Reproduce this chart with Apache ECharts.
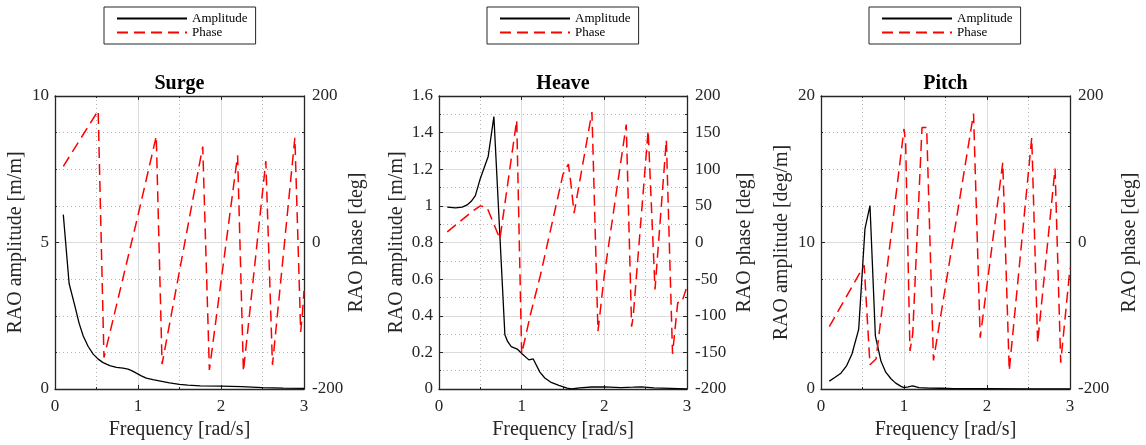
<!DOCTYPE html>
<html><head><meta charset="utf-8">
<script src="https://cdn.jsdelivr.net/npm/echarts@6/dist/echarts.min.js"></script>
<style>html,body{margin:0;padding:0;background:#fff}#c{width:1146px;height:445px}</style>
</head><body><div id="c"></div>
<script>
// ---------- data ----------
const panelTitles = ['Surge', 'Heave', 'Pitch'];
const ampNames = ['RAO amplitude [m/m]', 'RAO amplitude [m/m]', 'RAO amplitude [deg/m]'];
const phaseName = 'RAO phase [deg]';
const xName = 'Frequency [rad/s]';
const legendNames = ['Amplitude', 'Phase'];

// left-axis tick settings [max, interval, minor split]
const ampAxisMax = [10, 1.6, 20];
const ampAxisInterval = [5, 0.2, 10];
const ampAxisMinor = [4, 2, 4];
// right-axis tick settings
const phaseAxisInterval = [200, 50, 200];
const phaseAxisMinor = [4, 2, 4];

// [frequency rad/s, value]
const surgeAmplitude = [[0.1,5.95],[0.17,3.6],[0.24,2.83],[0.29,2.25],[0.34,1.81],[0.4,1.45],[0.46,1.19],[0.52,1.02],[0.58,0.9],[0.66,0.8],[0.74,0.74],[0.82,0.71],[0.88,0.68],[0.93,0.62],[0.98,0.54],[1.04,0.45],[1.1,0.37],[1.18,0.32],[1.27,0.27],[1.38,0.21],[1.5,0.16],[1.6,0.13],[1.75,0.11],[2.0,0.1],[2.25,0.08],[2.5,0.05],[2.75,0.03],[3.0,0.02]];
const surgePhase = [[0.1,104],[0.52,180],[0.59,-157],[1.0,37],[1.22,145],[1.29,-166],[1.78,131],[1.86,-174],[2.2,119],[2.27,-176],[2.54,111],[2.62,-167],[2.89,143],[2.96,-122],[2.98,-98],[3.0,-66]];

const heaveAmplitude = [[0.1,0.993],[0.2,0.989],[0.28,0.993],[0.34,1.005],[0.39,1.025],[0.44,1.056],[0.5,1.15],[0.595,1.27],[0.664,1.488],[0.797,0.296],[0.83,0.26],[0.874,0.231],[0.946,0.218],[1.007,0.191],[1.087,0.159],[1.14,0.164],[1.22,0.092],[1.28,0.06],[1.349,0.038],[1.45,0.02],[1.55,0.005],[1.6,0.0],[1.7,0.006],[1.85,0.011],[2.0,0.012],[2.2,0.008],[2.35,0.01],[2.45,0.012],[2.6,0.006],[2.8,0.003],[3.0,0.0]];
const heavePhase = [[0.1,14.5],[0.42,44],[0.5,50],[0.58,48],[0.737,5],[0.94,167],[1.0,-152],[1.107,-98],[1.228,-44],[1.5,93],[1.565,107],[1.594,82],[1.634,40],[1.85,178],[1.923,-121],[2.0,-44],[2.265,161],[2.33,-115],[2.35,-100],[2.53,153],[2.613,-64],[2.75,140],[2.825,-152],[2.888,-82],[2.936,-82],[3.0,-60]];

const pitchAmplitude = [[0.1,0.54],[0.17,0.8],[0.24,1.08],[0.31,1.6],[0.373,2.39],[0.454,4.07],[0.53,10.95],[0.59,12.52],[0.655,3.63],[0.723,1.89],[0.78,1.15],[0.843,0.7],[0.9,0.4],[0.964,0.18],[1.0,0.1],[1.05,0.15],[1.105,0.22],[1.18,0.1],[1.3,0.06],[1.45,0.05],[1.6,0.03],[2.0,0.02],[2.5,0.01],[3.0,0.01]];
const pitchPhase = [[0.1,-115],[0.52,-31],[0.59,-167],[0.663,-159],[1.0,155],[1.02,135],[1.072,-148],[1.105,-125],[1.217,157],[1.273,157],[1.355,-161],[1.838,176],[1.918,-130],[2.19,109],[2.268,-175],[2.539,143],[2.61,-137],[2.82,101],[2.888,-164],[3.0,-35]];

const amplitudes = [surgeAmplitude, heaveAmplitude, pitchAmplitude];
const phases = [surgePhase, heavePhase, pitchPhase];

// ---------- layout / style ----------
const FONT = 'Liberation Serif';
const AX = '#262626';
const gridLeft = [55, 439, 821];
const gridWidth = [249, 248, 249];
const gridTop = 96, gridHeight = 296;
const legendLeft = [104, 487, 869];
const leftNameGap = [29, 32, 29];
const rightNameGap = [36, 48, 50];

const majorGrid = { show: true, lineStyle: { color: '#dcdcdc', width: 1 } };
const minorGrid = { show: true, lineStyle: { color: '#b4b4b4', width: 1, type: [1, 3] } };
const tickLabel = { color: AX, fontFamily: FONT, fontSize: 17 };
const axisLine = { show: true, onZero: false, lineStyle: { color: AX, width: 1.3 } };

const grid = [], xAxis = [], yAxis = [], series = [], title = [], legend = [];
for (let i = 0; i < 3; i++) {
  grid.push({ left: gridLeft[i], top: gridTop, width: gridWidth[i], height: gridHeight, containLabel: false });
  xAxis.push({
    type: 'value', gridIndex: i, position: 'bottom', min: 0, max: 3, interval: 1,
    axisLine, axisTick: { inside: true, length: 4, lineStyle: { color: AX } },
    minorTick: { show: true, splitNumber: 2, length: 2, lineStyle: { color: AX } },
    splitLine: majorGrid, minorSplitLine: minorGrid,
    axisLabel: Object.assign({ margin: 9 }, tickLabel),
    name: xName, nameLocation: 'middle', nameGap: 31,
    nameTextStyle: { color: AX, fontFamily: FONT, fontSize: 20 }
  });
  xAxis.push({
    type: 'value', gridIndex: i, position: 'top', min: 0, max: 3, interval: 1,
    axisLine, axisTick: { inside: true, length: 4, lineStyle: { color: AX } },
    minorTick: { show: true, splitNumber: 2, length: 2, lineStyle: { color: AX } },
    splitLine: { show: false }, axisLabel: { show: false }
  });
  yAxis.push({
    type: 'value', gridIndex: i, position: 'left', min: 0, max: ampAxisMax[i], interval: ampAxisInterval[i],
    axisLine, axisTick: { inside: true, length: 4, lineStyle: { color: AX } },
    minorTick: { show: true, splitNumber: ampAxisMinor[i], length: 2, lineStyle: { color: AX } },
    splitLine: majorGrid, minorSplitLine: minorGrid,
    axisLabel: Object.assign({ margin: 6 }, tickLabel),
    name: ampNames[i], nameLocation: 'middle', nameGap: leftNameGap[i], nameRotate: 90,
    nameTextStyle: { color: AX, fontFamily: FONT, fontSize: 20 }
  });
  yAxis.push({
    type: 'value', gridIndex: i, position: 'right', min: -200, max: 200, interval: phaseAxisInterval[i],
    axisLine, axisTick: { inside: true, length: 4, lineStyle: { color: AX } },
    minorTick: { show: true, splitNumber: phaseAxisMinor[i], length: 2, lineStyle: { color: AX } },
    splitLine: { show: false },
    axisLabel: Object.assign({ margin: 8 }, tickLabel),
    name: phaseName, nameLocation: 'middle', nameGap: rightNameGap[i], nameRotate: 90,
    nameTextStyle: { color: AX, fontFamily: FONT, fontSize: 20 }
  });
  series.push({
    name: legendNames[0], type: 'line', xAxisIndex: i * 2, yAxisIndex: i * 2,
    data: amplitudes[i], symbol: 'none', showSymbol: false, animation: false,
    lineStyle: { color: '#000', width: 1.3 }, itemStyle: { color: '#000' }
  });
  series.push({
    name: legendNames[1], type: 'line', xAxisIndex: i * 2, yAxisIndex: i * 2 + 1,
    data: phases[i], symbol: 'none', showSymbol: false, animation: false,
    lineStyle: { color: '#ff0000', width: 1.5, type: [11, 6] }, itemStyle: { color: '#ff0000' }
  });
  title.push({
    text: panelTitles[i], left: gridLeft[i] + gridWidth[i] / 2, top: 74, textAlign: 'center', padding: 0,
    textStyle: { fontFamily: FONT, fontSize: 20, fontWeight: 'bold', color: '#000' }
  });
  legend.push({
    data: legendNames, orient: 'vertical', left: legendLeft[i], top: 7,
    padding: [5, 8, 5, 12], itemGap: 1, itemWidth: 70, itemHeight: 14,
    borderColor: AX, borderWidth: 1, backgroundColor: '#fff', selectedMode: false,
    itemStyle: { opacity: 0 },
    textStyle: { fontFamily: FONT, fontSize: 13, color: '#000' }
  });
}

const chart = echarts.init(document.getElementById('c'), null, { renderer: 'canvas' });
chart.setOption({ animation: false, backgroundColor: '#fff', title, legend, grid, xAxis, yAxis, series });
</script>
</body></html>
